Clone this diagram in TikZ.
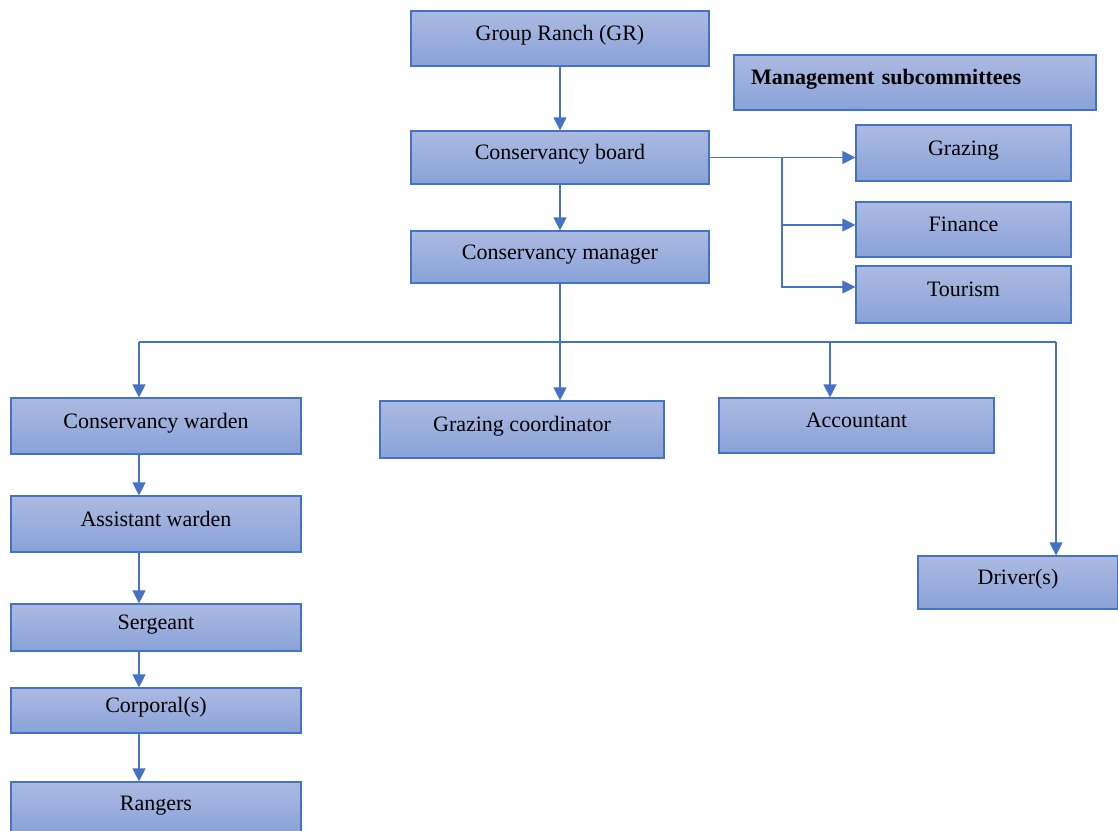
\documentclass[tikz,border=0pt]{standalone}
\usepackage{fontspec}
\setmainfont{Liberation Serif}
\usetikzlibrary{arrows.meta}
\usetikzlibrary{positioning}
\definecolor{boxtop}{HTML}{ABBAE1}
\definecolor{boxbot}{HTML}{8AA2D8}
\definecolor{edge}{HTML}{4472C4}
\tikzset{
	orgbox/.style 2 args={draw=edge,line width=.6pt,top color=boxtop,bottom color=boxbot,
		minimum width=#1*.5pt,minimum height=#2*.5pt,inner sep=0pt,
		text height=8pt,text depth=6pt,font=\fontsize{11}{13}\selectfont},
	link/.style={draw=edge,line width=.6pt,-{Triangle[length=6.5pt,width=6.5pt]}},
	wire/.style={draw=edge,line width=.6pt}
}
\begin{document}
\begin{tikzpicture}[x=.5pt,y=-.5pt]
	\useasboundingbox (0,0) rectangle (1118,830);
	%% top of the chart
	\node[orgbox={298}{55}] (gr) at (560,38.5) {Group Ranch (GR)};
	\node[orgbox={362}{55},align=left,text width=164pt,inner xsep=8.5pt,font=\fontsize{11}{13}\selectfont\bfseries] (ms) at (915,82.5) {Management subcommittees};
	\node[orgbox={298}{53}] (cb) at (560,157.5) {Conservancy board};
	\node[orgbox={298}{52}] (cm) at (560,257) {Conservancy manager};
	%% subcommittees
	\node[orgbox={215}{56}] (gz) at (963.5,153) {Grazing};
	\node[orgbox={215}{55}] (fi) at (963.5,229.5) {Finance};
	\node[orgbox={215}{57}] (to) at (963.5,294.5) {Tourism};
	%% staff
	\node[orgbox={290}{56}] (cw) at (156,426) {Conservancy warden};
	\node[orgbox={284}{57}] (gc) at (522,429.5) {Grazing coordinator};
	\node[orgbox={275}{55}] (ac) at (856.5,425.5) {Accountant};
	\node[orgbox={200}{53}] (dr) at (1018,582.5) {Driver(s)};
	\node[orgbox={290}{56}] (aw) at (156,524) {Assistant warden};
	\node[orgbox={290}{47}] (se) at (156,627.5) {Sergeant};
	\node[orgbox={290}{45}] (co) at (156,710.5) {Corporal(s)};
	\node[orgbox={290}{52}] (ra) at (156,808) {Rangers};
	% branch points
	\coordinate (sub) at (782,157);
	\coordinate (busL) at (139,342);
	\coordinate (busA) at (830,342);
	\coordinate (busR) at (1056,342);
	% connectors
	\draw[link] (gr) -- (cb);
	\draw[link] (cb) -- (cm);
	\draw[link] (cb.east) -- (cb.east -| gz.west);
	\draw[link] (sub) |- ([yshift=2.25pt]fi.west);
	\draw[link] (sub) |- ([yshift=3.75pt]to.west);
	\draw[link] (cm.south) -- (cm.south |- gc.north);
	\draw[wire] (busL) -- (busR);
	\draw[link] (busL) -- (busL |- cw.north);
	\draw[link] (busA) -- (busA |- ac.north);
	\draw[link] (busR) -- (busR |- dr.north);
	\draw[link] ([xshift=-8.5pt]cw.south) -- ([xshift=-8.5pt]aw.north);
	\draw[link] ([xshift=-8.5pt]aw.south) -- ([xshift=-8.5pt]se.north);
	\draw[link] ([xshift=-8.5pt]se.south) -- ([xshift=-8.5pt]co.north);
	\draw[link] ([xshift=-8.5pt]co.south) -- ([xshift=-8.5pt]ra.north);
\end{tikzpicture}
\end{document}
